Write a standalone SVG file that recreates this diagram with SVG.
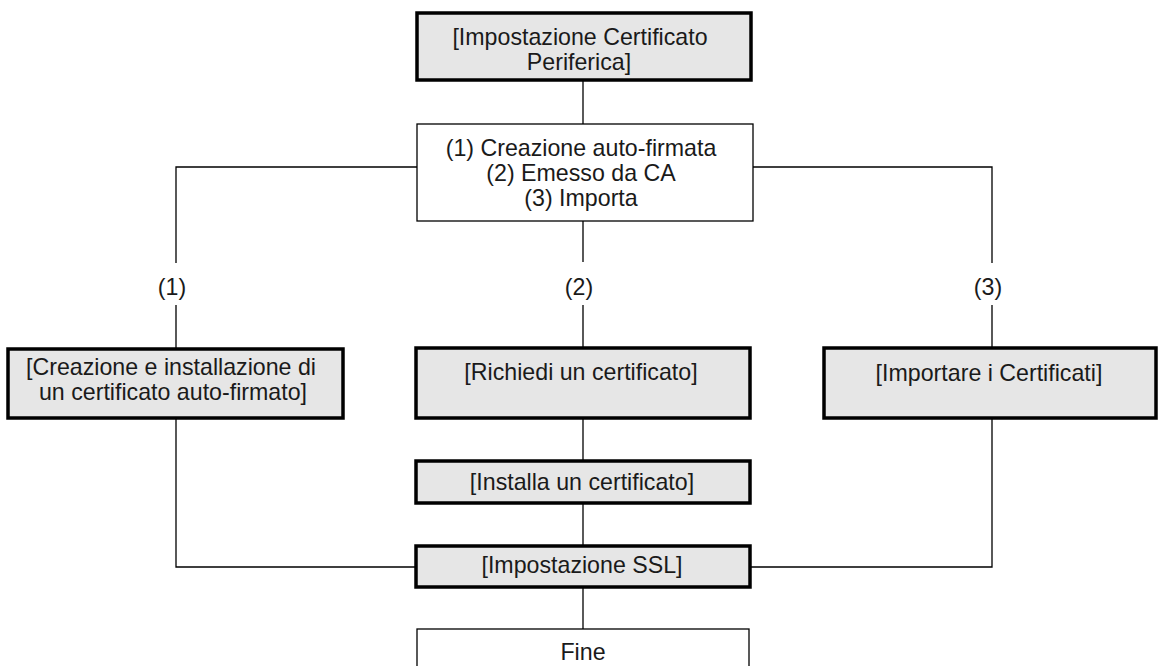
<svg xmlns="http://www.w3.org/2000/svg" width="1158" height="666" viewBox="0 0 1158 666">
<style>
.box{fill:#e6e6e6;stroke:#000;stroke-width:3.5}
.plain{fill:#fff;stroke:#000;stroke-width:1.3}
.t{font-family:"Liberation Sans",Arial,sans-serif;font-size:23.2px;fill:#1a1a1a;text-anchor:middle}
.c{fill:none;stroke:#000;stroke-width:1.3}
</style>
<rect width="1158" height="666" fill="#fff"/>
<g id="connectors">
<path class="c" d="M583 80V124"/>
<path class="c" d="M417 167H176V263M176 305V349"/>
<path class="c" d="M753 167H992V263M992 305V348"/>
<path class="c" d="M583 221V262M583 305V348"/>
<path class="c" d="M583 418V461"/>
<path class="c" d="M583 503V546"/>
<path class="c" d="M583 587V629"/>
<path class="c" d="M176 418V567H416"/>
<path class="c" d="M992 418V567H750"/>
</g>
<g id="lbl1"><text class="t" x="172" y="295">(1)</text></g>
<g id="lbl2"><text class="t" x="579" y="295">(2)</text></g>
<g id="lbl3"><text class="t" x="988" y="295">(3)</text></g>
<g id="n-top">
<rect class="box" x="417" y="13" width="334" height="67"/>
<text class="t" x="580" y="45">[Impostazione Certificato</text>
<text class="t" x="579" y="70">Periferica]</text>
</g>
<g id="n-choice">
<rect class="plain" x="417" y="124" width="336" height="97"/>
<text class="t" x="581" y="156">(1) Creazione auto-firmata</text>
<text class="t" x="581" y="181">(2) Emesso da CA</text>
<text class="t" x="581" y="206">(3) Importa</text>
</g>
<g id="n-self">
<rect class="box" x="8" y="349" width="335" height="69"/>
<text class="t" x="171" y="375">[Creazione e installazione di</text>
<text class="t" x="173" y="400">un certificato auto-firmato]</text>
</g>
<g id="n-request">
<rect class="box" x="416" y="348" width="334" height="70"/>
<text class="t" x="581" y="380">[Richiedi un certificato]</text>
</g>
<g id="n-import">
<rect class="box" x="824" y="348" width="332" height="70"/>
<text class="t" x="989" y="381">[Importare i Certificati]</text>
</g>
<g id="n-install">
<rect class="box" x="416" y="461" width="334" height="42"/>
<text class="t" x="582" y="490">[Installa un certificato]</text>
</g>
<g id="n-ssl">
<rect class="box" x="416" y="546" width="334" height="41"/>
<text class="t" x="582" y="573">[Impostazione SSL]</text>
</g>
<g id="n-end">
<rect class="plain" x="417" y="629" width="332" height="60"/>
<text class="t" x="583" y="660">Fine</text>
</g>
</svg>
